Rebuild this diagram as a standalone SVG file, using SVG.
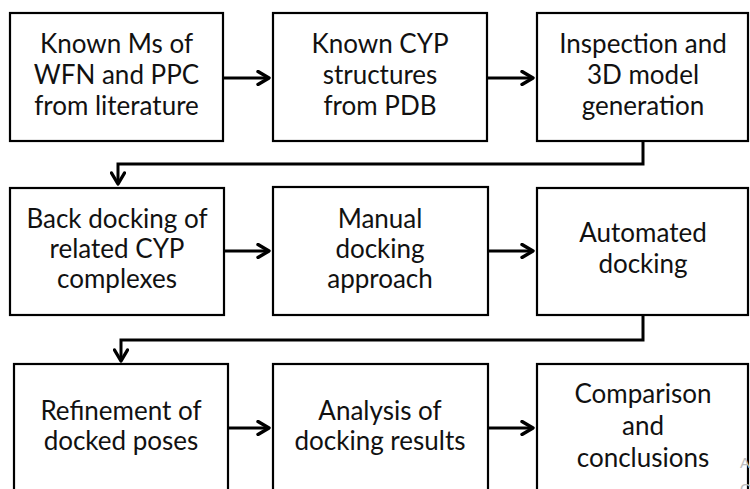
<svg xmlns="http://www.w3.org/2000/svg" width="750" height="489" viewBox="0 0 750 489">
<defs>
<style>
.box{fill:#fff;stroke:#000;stroke-width:2.2}
.t{font-family:Lato,"Liberation Sans",sans-serif;font-size:26px;fill:#111;text-anchor:middle}
.c{fill:none;stroke:#000;stroke-width:3}
.wm{font-family:"Liberation Sans",sans-serif;font-size:15px;fill:#bdbdbd}
</style>
<marker id="ah" viewBox="0 0 16 16" refX="14" refY="8" markerWidth="16" markerHeight="16" markerUnits="userSpaceOnUse" orient="auto">
<path d="M3,1.5 L14,8 L3,14.5" fill="none" stroke="#000" stroke-width="3.4" stroke-linecap="round" stroke-linejoin="round"/>
</marker>
</defs>
<rect width="750" height="489" fill="#fff"/>
<g id="n1"><rect class="box" x="10" y="13" width="213" height="128"/>
<text class="t" x="116.5" y="53">Known Ms of</text><text class="t" x="116.5" y="84">WFN and PPC</text><text class="t" x="116.5" y="115">from literature</text></g>
<g id="n2"><rect class="box" x="273" y="13" width="214" height="128"/>
<text class="t" x="380" y="53">Known CYP</text><text class="t" x="380" y="84">structures</text><text class="t" x="380" y="115">from PDB</text></g>
<g id="n3"><rect class="box" x="537" y="13" width="211" height="128"/>
<text class="t" x="643" y="53">Inspection and</text><text class="t" x="643" y="84">3D model</text><text class="t" x="643" y="115">generation</text></g>
<g id="n4"><rect class="box" x="10" y="188" width="214" height="127"/>
<text class="t" x="117" y="228">Back docking of</text><text class="t" x="117" y="258">related CYP</text><text class="t" x="117" y="288">complexes</text></g>
<g id="n5"><rect class="box" x="273" y="187" width="215" height="128"/>
<text class="t" x="380" y="228">Manual</text><text class="t" x="380" y="258">docking</text><text class="t" x="380" y="288">approach</text></g>
<g id="n6"><rect class="box" x="537" y="188" width="211" height="127"/>
<text class="t" x="643" y="242">Automated</text><text class="t" x="643" y="273">docking</text></g>
<g id="n7"><rect class="box" x="14" y="364" width="214" height="140"/>
<text class="t" x="121" y="420">Refinement of</text><text class="t" x="121" y="450">docked poses</text></g>
<g id="n8"><rect class="box" x="273" y="364" width="215" height="140"/>
<text class="t" x="380" y="420">Analysis of</text><text class="t" x="380" y="450">docking results</text></g>
<g id="n9"><rect class="box" x="537" y="364" width="211" height="140"/>
<text class="t" x="643" y="403">Comparison</text><text class="t" x="643" y="435">and</text><text class="t" x="643" y="467">conclusions</text></g>
<g id="connectors">
<path class="c" d="M223,78 H269" marker-end="url(#ah)"/>
<path class="c" d="M487,78 H533" marker-end="url(#ah)"/>
<path class="c" d="M643,141 V164 H118 V184" marker-end="url(#ah)"/>
<path class="c" d="M224,251 H269" marker-end="url(#ah)"/>
<path class="c" d="M488,251 H533" marker-end="url(#ah)"/>
<path class="c" d="M643,315 V340 H121 V361" marker-end="url(#ah)"/>
<path class="c" d="M228,428 H269" marker-end="url(#ah)"/>
<path class="c" d="M488,428 H533" marker-end="url(#ah)"/>
</g>
<text class="wm" x="740" y="468">A</text>
<text class="wm" x="740" y="494">G</text>
</svg>
